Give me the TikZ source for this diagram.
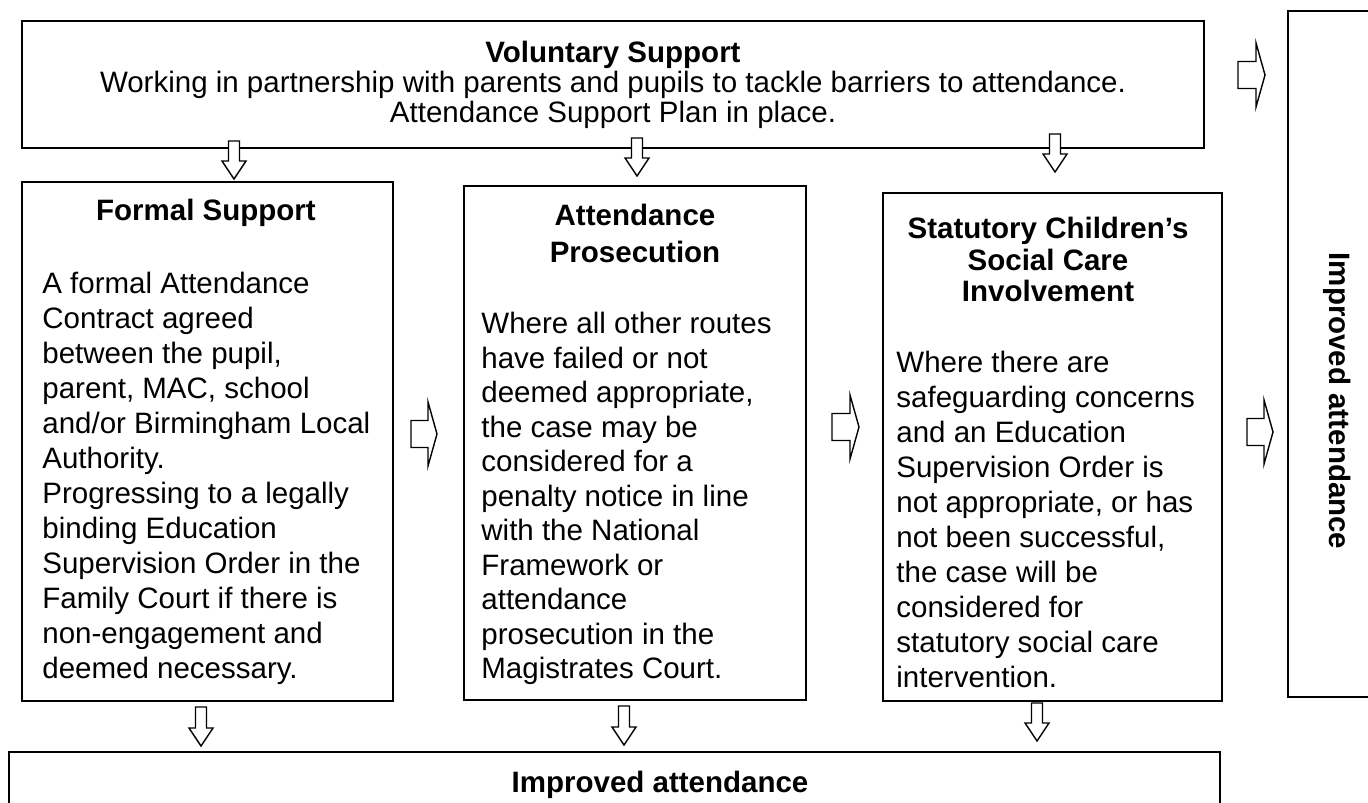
\documentclass[tikz,border=0pt]{standalone}
\usepackage{fontspec}
\setmainfont{Liberation Sans}
\usetikzlibrary{calc,positioning}

\begin{document}
\begin{tikzpicture}[x=0.5pt,y=-0.5pt,inner sep=0pt,
  panel/.style={draw,line width=1pt},
  head/.style={font=\fontsize{14.75}{16}\selectfont\bfseries,align=center,anchor=north},
  body/.style={font=\fontsize{14.75}{17.4}\selectfont,align=left,anchor=north west},
  downblk/.style={draw,fill=white,line width=0.7pt,to path={
    let \p1=(\tikztostart), \p2=(\tikztotarget) in
    (\x1-2.75pt,\y1) -- (\x1+2.75pt,\y1) -- (\x1+2.75pt,\y2+9pt) -- (\x1+6pt,\y2+9pt)
    -- (\x1,\y2) -- (\x1-6pt,\y2+9pt) -- (\x1-2.75pt,\y2+9pt) -- cycle}},
  rightblk/.style={draw,fill=white,line width=0.7pt,to path={
    let \p1=(\tikztostart), \p2=(\tikztotarget) in
    (\x1,\y1+6.75pt) -- (\x2-4.5pt,\y1+6.75pt) -- (\x2-4.5pt,\y1+16pt) -- (\x2,\y1)
    -- (\x2-4.5pt,\y1-16pt) -- (\x2-4.5pt,\y1-6.75pt) -- (\x1,\y1-6.75pt) -- cycle}}]

\useasboundingbox (0,0) rectangle (1368,802);
\clip (0,0) rectangle (1368,802);

% boxes
\node[panel,minimum width=591pt,minimum height=63.5pt] (vol) at (613,84.5) {};
\node[panel,minimum width=185.5pt,minimum height=259.5pt] (formal) at (207.5,441.5) {};
\node[panel,minimum width=171pt,minimum height=257pt] (prosec) at (635,443) {};
\node[panel,minimum width=169.5pt,minimum height=254pt] (social) at (1052.5,447) {};
\node[panel,minimum width=66pt,minimum height=343pt] (sideout) at (1354,354) {};
\node[panel,minimum width=605.5pt,minimum height=49pt] (outcome) at (614.5,801) {};

% texts
\node[head,font=\fontsize{14.75}{15}\selectfont] (voltxt) at ($(vol.north)+(0,21)$)
  {\textbf{Voluntary Support}\\
   Working in partnership with parents and pupils to tackle barriers to attendance.\\
   Attendance Support Plan in place.};

\node[head] (formalhead) at ($(formal.north)+(-1.5,18)$) {Formal Support};
\node[body,font=\fontsize{14.75}{17.5}\selectfont] (formaltxt) at ($(formal.north west)+(21,91)$)
  {A formal Attendance\\ Contract agreed\\ between the pupil,\\ parent, MAC, school\\
   and/or Birmingham Local\\ Authority.\\ Progressing to a legally\\ binding Education\\
   Supervision Order in the\\ Family Court if there is\\ non-engagement and\\ deemed necessary.};

\node[head,font=\fontsize{14.75}{18.3}\selectfont\bfseries] (prosechead) at ($(prosec.north)+(0,19)$)
  {Attendance\\ Prosecution};
\node[body,font=\fontsize{14.75}{17.25}\selectfont] (prosectxt) at ($(prosec.north west)+(18,127)$)
  {Where all other routes\\ have failed or not\\ deemed appropriate,\\ the case may be\\
   considered for a\\ penalty notice in line\\ with the National\\ Framework or\\
   attendance\\ prosecution in the\\ Magistrates Court.};

\node[head,font=\fontsize{14.75}{15.8}\selectfont\bfseries] (socialhead) at ($(social.north)+(-4.5,25)$)
  {Statutory Children’s\\ Social Care\\ Involvement};
\node[body,font=\fontsize{14.75}{17.5}\selectfont] (socialtxt) at ($(social.north west)+(14,159)$)
  {Where there are\\ safeguarding concerns\\ and an Education\\ Supervision Order is\\
   not appropriate, or has\\ not been successful,\\ the case will be\\ considered for\\
   statutory social care\\ intervention.};

\node[font=\fontsize{14.75}{16}\selectfont\bfseries,rotate=-90] (sidetxt) at (1337,401) {Improved attendance};
\node[head] (outtxt) at ($(outcome.north)+(45.5,20)$) {Improved attendance};

% arrows down
\draw[downblk] ($(vol.south -| formal.north)+(26.5,-8)$) to ($(formal.north)+(26.5,-2)$);
\draw[downblk] ($(vol.south -| prosec.north)+(2,-11)$) to ($(prosec.north)+(2,-9)$);
\draw[downblk] ($(vol.south -| social.north)+(2.5,-15)$) to ($(social.north)+(2.5,-20)$);
\draw[downblk] ($(formal.south)+(-6.5,5)$) to ($(formal.south |- outcome.north)+(-6.5,-5)$);
\draw[downblk] ($(prosec.south)+(-11,5)$) to ($(prosec.south |- outcome.north)+(-11,-6)$);
\draw[downblk] ($(social.south)+(-15.5,1)$) to ($(social.south |- outcome.north)+(-15.5,-10)$);

% arrows right
\draw[rightblk] ($(vol.east)+(33,-9.5)$) to ($(sideout.west)+(-22,-279)$);
\draw[rightblk] ($(formal.east)+(17,-7.5)$) to ($(prosec.west)+(-26,-9)$);
\draw[rightblk] ($(prosec.east)+(25,-16)$) to ($(social.west)+(-23,-20)$);
\draw[rightblk] ($(social.east)+(24,-15)$) to ($(sideout.west)+(-14,78)$);

\end{tikzpicture}
\end{document}
